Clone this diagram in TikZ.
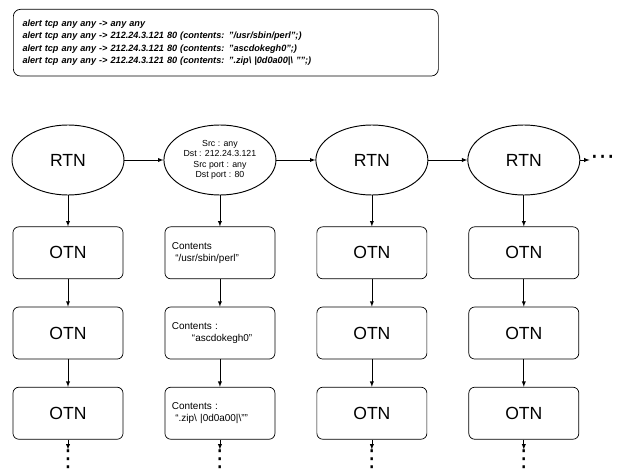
\documentclass[tikz,border=0pt]{standalone}
\usepackage{fontspec}
\setsansfont{Liberation Sans}
\newfontfamily\dotsfont{DejaVu Sans}
\usetikzlibrary{positioning,arrows,shapes,shapes.geometric}
\tikzset{
	every picture/.style={/utils/exec={\sffamily}},
	>=latex, ->, node distance=8.25mm,
	every edge/.append style={line width=0.6pt},
	rtn/.style={draw, ellipse, line width=0.8pt, minimum width=33.6mm, minimum height=21mm, inner sep=0, font=\fontsize{15}{18}\selectfont},
	otn/.style={draw, rounded corners=5pt, line width=0.6pt, minimum width=33mm, minimum height=15.6mm, font=\fontsize{15}{18}\selectfont},
	cnt/.style={otn, inner xsep=2.1mm, text width=28.8mm, align=left, font=\fontsize{8.5}{10.5}\selectfont},
	hdr/.style={rtn, align=center, font=\fontsize{7.5}{9}\selectfont},
	rulebox/.style={draw, rounded corners=6pt, line width=0.6pt, minimum width=127.5mm, minimum height=20mm, inner xsep=2.7mm, text width=122mm, align=left, font=\fontsize{7.8}{10.4}\selectfont\bfseries\itshape},
	vdots/.style={inner sep=0.3pt, font=\fontsize{20}{24}\selectfont\dotsfont},
	hdots/.style={inner sep=0.5pt, font=\fontsize{21}{24}\selectfont\dotsfont}
}
\begin{document}
\begin{tikzpicture}[x=0.3mm, y=-0.3mm]
		\useasboundingbox (0,0) rectangle (628,473);
		\node(rules)[rulebox, anchor=north west] at (13,9) {alert tcp any any -> any any\\
			alert tcp any any -> 212.24.3.121 80 (contents: "/usr/sbin/perl";)\\
			alert tcp any any -> 212.24.3.121 80 (contents: "ascdokegh0";)\\
			alert tcp any any -> 212.24.3.121 80 (contents: ".zip\textbackslash\ |0d0a00|\textbackslash\ "";)};
		
		\node(rtnA)[rtn] at (68,160) {RTN};
		\node(hdrB)[hdr, right=11.7mm of rtnA] {Src : any\\Dst : 212.24.3.121\\Src port : any\\Dst port : 80};
		\node(rtnC)[rtn, right=11.7mm of hdrB] {RTN};
		\node(rtnD)[rtn, right=11.7mm of rtnC] {RTN};
		\node(more)[hdots, right=2.8mm of rtnD] {⋯};
		
		\node(otnA1)[otn, below=9.3mm of rtnA] {OTN};
		\node(otnA2)[otn, below=of otnA1] {OTN};
		\node(otnA3)[otn, below=of otnA2] {OTN};
		\node(dotsA)[vdots, below=3mm of otnA3] {⋮};
		
		\node(cntB1)[cnt, below=9.3mm of hdrB] {Contents\\\hspace*{1mm}“/usr/sbin/perl”};
		\node(cntB2)[cnt, below=of cntB1] {Contents :\\\hspace*{6mm}“ascdokegh0”};
		\node(cntB3)[cnt, below=of cntB2] {Contents :\\\hspace*{1mm}“.zip\textbackslash\ |0d0a00|\textbackslash"”};
		\node(dotsB)[vdots, below=3mm of cntB3] {⋮};
		
		\node(otnC1)[otn, below=9.3mm of rtnC] {OTN};
		\node(otnC2)[otn, below=of otnC1] {OTN};
		\node(otnC3)[otn, below=of otnC2] {OTN};
		\node(dotsC)[vdots, below=3mm of otnC3] {⋮};
		
		\node(otnD1)[otn, below=9.3mm of rtnD] {OTN};
		\node(otnD2)[otn, below=of otnD1] {OTN};
		\node(otnD3)[otn, below=of otnD2] {OTN};
		\node(dotsD)[vdots, below=3mm of otnD3] {⋮};
		
		\path (rtnA) edge (hdrB);
		\path (hdrB) edge (rtnC);
		\path (rtnC) edge (rtnD);
		\path (rtnD) edge (more);
		
		\path (rtnA) edge (otnA1) (otnA1) edge (otnA2) (otnA2) edge (otnA3) (otnA3) edge (dotsA);
		\path (hdrB) edge (cntB1) (cntB1) edge (cntB2) (cntB2) edge (cntB3) (cntB3) edge (dotsB);
		\path (rtnC) edge (otnC1) (otnC1) edge (otnC2) (otnC2) edge (otnC3) (otnC3) edge (dotsC);
		\path (rtnD) edge (otnD1) (otnD1) edge (otnD2) (otnD2) edge (otnD3) (otnD3) edge (dotsD);
\end{tikzpicture}
\end{document}
